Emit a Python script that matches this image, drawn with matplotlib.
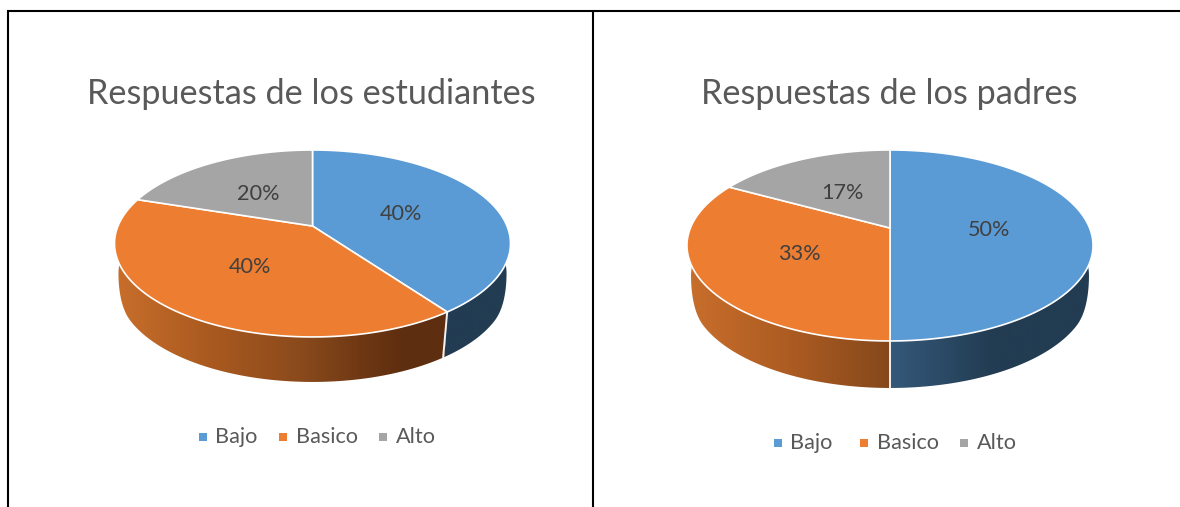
import numpy as np
import matplotlib
matplotlib.use("Agg")
import matplotlib.pyplot as plt
from matplotlib.colors import LinearSegmentedColormap
from matplotlib.patches import Polygon

categories = ["Bajo", "Basico", "Alto"]
estudiantes = [40, 40, 20]
padres = [50, 33, 17]
titulos = ["Respuestas de los estudiantes", "Respuestas de los padres"]
colores = ["#5B9BD5", "#ED7D31", "#A5A5A5"]

plt.rcParams["font.family"] = ["Lato", "DejaVu Sans"]
fig = plt.figure(figsize=(11.8, 5.07), dpi=100)
ax = fig.add_axes([0, 0, 1, 1])
ax.set_xlim(0, 1180)
ax.set_ylim(507, 0)
ax.axis("off")

# table frame
ax.plot([8, 8], [507, 11], color="black", lw=1.5, solid_capstyle="butt")
ax.plot([593, 593], [507, 11], color="black", lw=1.5, solid_capstyle="butt")
ax.plot([7, 1180], [11, 11], color="black", lw=1.5, solid_capstyle="butt")


def draw_pie(values, title, cx, cy, a, b, p, depth, title_y, legend_y,
             legend_sq, legend_tx, ramps):
    def project(theta, r=1.0):
        X = r * np.sin(theta)
        Y = -r * np.cos(theta)
        w = 1 - p * Y
        return cx + a * X / w, cy + b * Y / w

    def wall_depth(theta):
        # the wall looks a little shallower at the far sides of the view
        Y = -np.cos(theta)
        u = np.clip((Y - p) / (0.5 - p), 0, 1)
        return 30 + (depth - 30) * np.sin(np.pi / 2 * u)

    fractions = np.array(values, float) / sum(values)
    edges = np.concatenate([[0], np.cumsum(fractions)]) * 2 * np.pi

    # side walls
    for i in range(len(values)):
        t = np.linspace(edges[i], edges[i + 1], 300)
        x, y = project(t)
        xb = cx + (x - cx) * 0.98
        yb = y + wall_depth(t)
        wall = np.column_stack([np.r_[x, xb[::-1]], np.r_[y, yb[::-1]]])
        poly = Polygon(wall, closed=True, fc="none", ec="none")
        ax.add_patch(poly)
        cmap = LinearSegmentedColormap.from_list("r", ramps[i])
        grad = np.linspace(0, 1, 512).reshape(1, -1)
        im = ax.imshow(grad, cmap=cmap, aspect="auto", zorder=2,
                       extent=[cx - a * 1.03, cx + a * 1.03, 507, 0])
        im.set_clip_path(poly)

    # vertical white seams on the front
    for e in edges:
        x0, y0 = project(e)
        if -np.cos(e) > p:
            ax.plot([x0, cx + (x0 - cx) * 0.97], [y0, y0 + wall_depth(e)],
                    color="#f2f2f2", lw=1.4, zorder=2.5)

    # top faces
    for i, v in enumerate(values):
        t = np.linspace(edges[i], edges[i + 1], 200)
        x, y = project(t)
        pts = np.column_stack([np.r_[cx, x], np.r_[cy, y]])
        ax.add_patch(Polygon(pts, closed=True, fc=colores[i], ec="#ffffff",
                             lw=1.2, joinstyle="round", zorder=3))
        xl, yl = project((edges[i] + edges[i + 1]) / 2, 0.5)
        ax.text(xl - 1, yl + 1.5, f"{v}%", ha="center", va="center", fontsize=15.6,
                color="#404040", zorder=4)

    ax.text(cx - 1, title_y, title, ha="center", va="baseline", fontsize=24.7,
            color="#595959")
    for name, col, sx, tx in zip(categories, colores, legend_sq, legend_tx):
        ax.plot([sx], [legend_y - 6], marker="s", ms=5.6, color=col, mew=0)
        ax.text(tx, legend_y, name, ha="left", va="baseline", fontsize=15.6,
                color="#595959")


blue_flat = ["#223c52", "#223c52"]
grey_flat = ["#7c7c7c", "#7c7c7c"]
orange_a = [(0, "#c96f2c"), (0.25, "#a9591f"), (0.47, "#8a4a1c"),
            (0.65, "#6a3512"), (0.73, "#5e2e10"), (1, "#5e2e10")]
orange_b = [(0, "#c96f2c"), (0.25, "#ad5c22"), (0.5, "#85481b"), (1, "#85481b")]
blue_b = [(0, "#34597a"), (0.5, "#34597a"), (0.75, "#223c52"), (1, "#223c52")]

draw_pie(estudiantes, titulos[0], 312.5, 226, 194.5, 90.2, 0.187, 45, 104, 443,
         [203, 283, 383], [215, 296, 396], [blue_flat, orange_a, grey_flat])
draw_pie(padres, titulos[1], 890, 228, 199.6, 92.3, 0.183, 47, 104, 449,
         [778, 864, 964], [790, 877, 977], [blue_b, orange_b, grey_flat])

ax.set_xlim(0, 1180)
ax.set_ylim(507, 0)
fig.savefig("out.png", dpi=100)
